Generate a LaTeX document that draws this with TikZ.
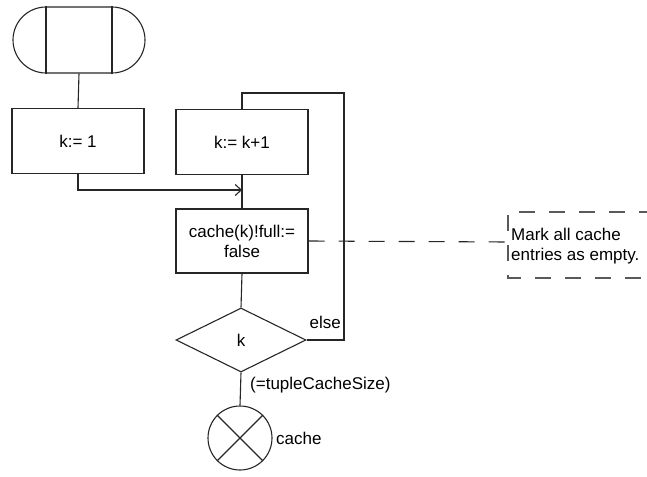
\documentclass[tikz,border=0pt]{standalone}
\usepackage{fontspec}
\setmainfont{Liberation Sans}
\usetikzlibrary{shapes.geometric,shapes.misc,arrows.meta}
\begin{document}
\begin{tikzpicture}[x=1pt,y=-1pt,
  every node/.style={font=\fontsize{17}{20}\selectfont},
  line/.style={line width=1.1pt, draw=black!85},
  procbox/.style={line, rectangle, minimum width=132pt, minimum height=65pt, inner sep=0pt, align=center},
  dline/.style={line, dash pattern=on 16pt off 14pt}]
\useasboundingbox (0,0) rectangle (647,476);
\node[line, rounded rectangle, minimum width=132pt, minimum height=66pt, inner sep=0pt] (term) at (79,40) {};
\draw[line] ([xshift=-33pt]term.north) -- ([xshift=-33pt]term.south);
\draw[line] ([xshift=33pt]term.north) -- ([xshift=33pt]term.south);
\node[procbox] (k1) at (78,141) {k:= 1};
\node[procbox] (kk) at (242,142) {k:= k+1};
\node[procbox, minimum height=64pt] (cache) at (242,241) {cache(k)!full:=\\false};
\node[line, diamond, minimum width=130pt, minimum height=64pt, inner sep=0pt, aspect=2] (dia) at (241,340) {k};
\node[line, circle, minimum size=64pt, inner sep=0pt] (circ) at (240,438) {};
\draw[line] (circ.north west) -- (circ.south east);
\draw[line] (circ.north east) -- (circ.south west);
\coordinate (join) at (242,190);
\coordinate (loopTop) at (344,93);
\draw[line] (term.south) -- (k1.north);
\draw[line] (kk.south) -- (cache.north);
\draw[line, -{Straight Barb[length=6pt,width=11pt]}] (k1.south) |- (join);
\draw[line] (cache.south) -- (dia.north);
\draw[line] (dia.south) -- (circ.north);
\draw[line] (dia.east) -| (loopTop) -| (kk.north);
\node[anchor=south east, inner sep=1pt] (else) at (342,330) {else};
\node[anchor=west, inner sep=0pt] (tcs) at (250,385) {(=tupleCacheSize)};
\node[anchor=west, inner sep=0pt] (clabel) at (276,438) {cache};
% comment
\coordinate (cm) at (508,242);
\coordinate (cmt) at (508,212);
\coordinate (cmb) at (508,278);
\coordinate (cmtr) at (647,212);
\coordinate (cmbr) at (647,278);
\draw[dline] (cache.east) -- (cm);
\draw[dline, draw=black!65, dash phase=8pt] (cmtr) -- (cmt) -- (cmb) -- (cmbr);
\node[anchor=west, align=left, inner sep=0pt] (comment) at (511,246) {Mark all cache\\entries as empty.};
\end{tikzpicture}
\end{document}
